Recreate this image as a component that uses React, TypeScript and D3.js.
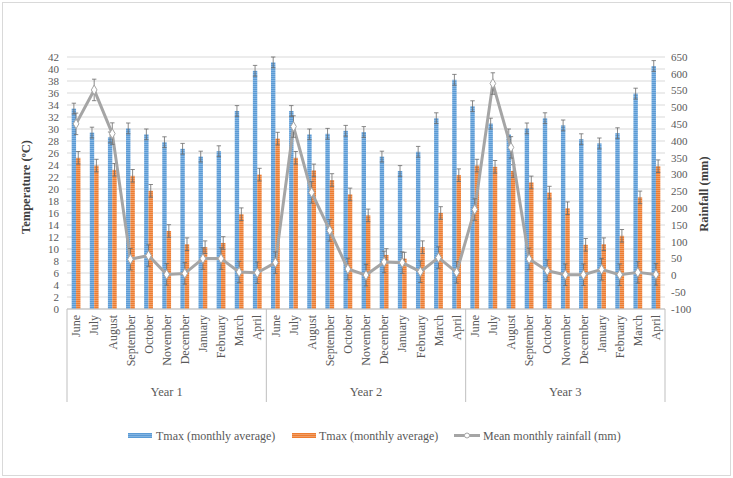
import React from "react";
import * as d3 from "d3";

// months shown for each of the three years
const months = [
  "June", "July", "August", "September", "October", "November",
  "December", "January", "February", "March", "April"
];
const years = ["Year 1", "Year 2", "Year 3"];

// blue bars, °C
const tmaxBlue = [
  33.4, 29.4, 28.6, 30.1, 29.1, 27.8, 26.7, 25.4, 26.3, 33.0, 39.7,
  41.1, 33.0, 29.1, 29.2, 29.7, 29.5, 25.4, 23.0, 26.2, 31.8, 38.2,
  33.8, 30.9, 29.1, 30.1, 31.8, 30.6, 28.3, 27.6, 29.3, 35.9, 40.5
];
// orange bars, °C
const tmaxOrange = [
  25.2, 23.9, 23.2, 22.2, 19.7, 13.0, 10.8, 10.3, 11.0, 15.8, 22.4,
  28.4, 25.2, 23.1, 21.5, 19.1, 15.6, 9.0, 8.4, 10.3, 16.0, 22.3,
  23.9, 23.7, 23.0, 21.1, 19.4, 16.8, 10.7, 10.8, 12.2, 18.6, 23.8
];
// mean monthly rainfall, mm
const rainfall = [
  451, 552, 422, 48, 59, 3, 6, 50, 50, 10, 8,
  38, 443, 247, 134, 19, 1, 40, 38, 11, 53, 9,
  196, 571, 381, 49, 14, 2, 2, 18, 2, 9, 3
];
const blueErr = 0.9;
const orangeErr = 1.05;
const rainErr = 32;

const tempTicks = d3.range(0, 43, 2);
const rainTicks = d3.range(-100, 651, 50);

const W = 733;
const H = 478;
const left = 67;
const right = 665;
const top = 57;
const bottom = 309;
const font = "'Liberation Serif', 'Times New Roman', serif";

export default function App() {
  const cats = d3.range(years.length * months.length);
  const x = d3.scaleBand<number>().domain(cats).range([left, right]);
  const yT = d3.scaleLinear().domain([0, 42]).range([bottom, top]);
  const yR = d3.scaleLinear().domain([-100, 650]).range([bottom, top]);
  const bw = 4.4;
  const cx = (i: number) => (x(i) as number) + x.bandwidth() / 2;

  const line = d3
    .line<number>()
    .x((_, i) => cx(i))
    .y(d => yR(d));
  const diamond = d3.symbol().type(d3.symbolDiamond).size(28)();

  const errBar = (xc: number, y1: number, y2: number, key: string) => (
    <g key={key} stroke="#6b6b6b" strokeWidth={0.8}>
      <line x1={xc} x2={xc} y1={y1} y2={y2} />
      <line x1={xc - 2.2} x2={xc + 2.2} y1={y1} y2={y1} />
      <line x1={xc - 2.2} x2={xc + 2.2} y1={y2} y2={y2} />
    </g>
  );

  const yearW = x.bandwidth() * months.length;

  return (
    <svg
      width={W}
      height={H}
      style={{ position: "absolute", left: 0, top: 0, background: "#fff" }}
      fontFamily={font}
    >
      <defs>
        <pattern id="stripeBlue" width="4" height="2" patternUnits="userSpaceOnUse">
          <rect width="4" height="2" fill="#5b9bd5" />
          <rect width="4" height="0.8" fill="#8dbbe6" />
        </pattern>
        <pattern id="stripeOrange" width="4" height="2" patternUnits="userSpaceOnUse">
          <rect width="4" height="2" fill="#ed7d31" />
          <rect width="4" height="0.8" fill="#f4a673" />
        </pattern>
      </defs>
      <rect x={2.5} y={2.5} width={728} height={473} fill="none" stroke="#d9d9d9" />

      {/* gridlines */}
      {tempTicks.map(t => (
        <line key={t} x1={left} x2={right} y1={yT(t)} y2={yT(t)} stroke="#d9d9d9" strokeWidth={1} />
      ))}

      {/* left axis */}
      {tempTicks.map(t => (
        <text key={t} x={59} y={yT(t)} dy="0.35em" textAnchor="end" fontSize={11} fill="#595959">
          {t}
        </text>
      ))}
      {/* right axis */}
      {rainTicks.map(t => (
        <text key={t} x={671} y={yR(t)} dy="0.35em" textAnchor="start" fontSize={11} fill="#595959">
          {t}
        </text>
      ))}
      <text
        transform={`translate(30,187) rotate(-90)`}
        textAnchor="middle"
        fontSize={12.5}
        fontWeight="bold"
        fill="#404040"
      >
        Temperature (ºC)
      </text>
      <text
        transform={`translate(708,194) rotate(-90)`}
        textAnchor="middle"
        fontSize={12.5}
        fontWeight="bold"
        fill="#404040"
      >
        Rainfall (mm)
      </text>

      {/* bars */}
      {cats.map(i => (
        <g key={i}>
          <rect x={cx(i) - bw} y={yT(tmaxBlue[i])} width={bw} height={bottom - yT(tmaxBlue[i])} fill="url(#stripeBlue)" />
          <rect x={cx(i)} y={yT(tmaxOrange[i])} width={bw} height={bottom - yT(tmaxOrange[i])} fill="url(#stripeOrange)" />
        </g>
      ))}
      {cats.map(i => errBar(cx(i) - bw / 2, yT(tmaxBlue[i] + blueErr), yT(tmaxBlue[i] - blueErr), `b${i}`))}
      {cats.map(i => errBar(cx(i) + bw / 2, yT(tmaxOrange[i] + orangeErr), yT(tmaxOrange[i] - orangeErr), `o${i}`))}

      {/* rainfall line */}
      <path d={line(rainfall) || ""} fill="none" stroke="#a5a5a5" strokeWidth={3} strokeLinejoin="round" />
      {cats.map(i => errBar(cx(i), yR(rainfall[i] + rainErr), yR(rainfall[i] - rainErr), `r${i}`))}
      {cats.map(i => (
        <path
          key={i}
          d={diamond || ""}
          transform={`translate(${cx(i)},${yR(rainfall[i])})`}
          fill="#fff"
          stroke="#a5a5a5"
          strokeWidth={1}
        />
      ))}

      {/* category axis */}
      <line x1={left} x2={right} y1={bottom} y2={bottom} stroke="#bfbfbf" />
      {d3.range(years.length + 1).map(k => (
        <line
          key={k}
          x1={left + k * yearW}
          x2={left + k * yearW}
          y1={bottom}
          y2={402}
          stroke="#bfbfbf"
        />
      ))}
      {cats.map(i => (
        <text
          key={i}
          transform={`translate(${cx(i)},${bottom + 6}) rotate(-90)`}
          textAnchor="end"
          dy="0.35em"
          fontSize={12}
          fill="#595959"
        >
          {months[i % months.length]}
        </text>
      ))}
      {years.map((yr, k) => (
        <text key={yr} x={left + (k + 0.5) * yearW} y={396} textAnchor="middle" fontSize={12.5} fill="#595959">
          {yr}
        </text>
      ))}

      {/* legend */}
      <g fontSize={12} fill="#595959">
        <rect x={128} y={433} width={24} height={5} fill="url(#stripeBlue)" />
        <text x={156} y={440}>Tmax (monthly average)</text>
        <rect x={292} y={433} width={24} height={5} fill="url(#stripeOrange)" />
        <text x={319} y={440}>Tmax (monthly average)</text>
        <line x1={454} x2={480} y1={435.5} y2={435.5} stroke="#a5a5a5" strokeWidth={3} />
        <circle cx={467} cy={435.5} r={2.5} fill="#fff" stroke="#a5a5a5" />
        <text x={483} y={440}>Mean monthly rainfall (mm)</text>
      </g>
    </svg>
  );
}
